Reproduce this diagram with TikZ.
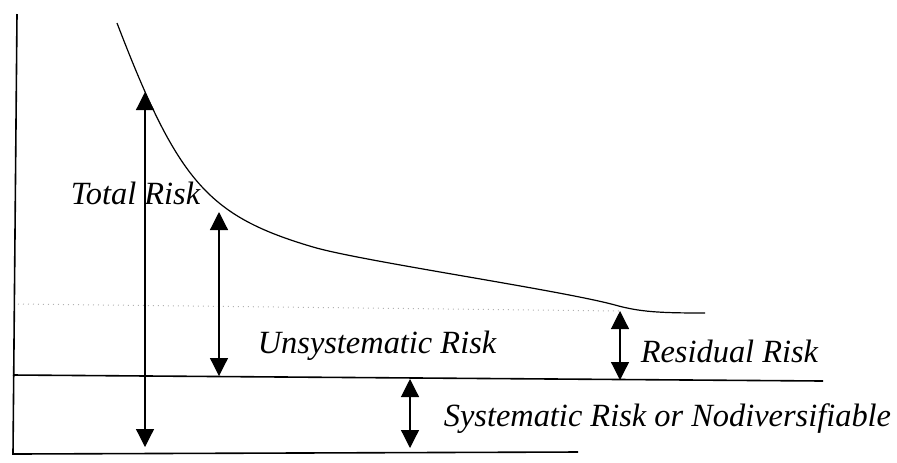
\documentclass[tikz,border=0pt]{standalone}
\usepackage{fontspec}
\setmainfont{Liberation Serif}
\usetikzlibrary{arrows.meta}

\begin{document}
\begin{tikzpicture}[x=0.5pt,y=-0.5pt,line width=0.8pt,
	riskarrow/.style={{Triangle[width=9pt,length=9pt]}-{Triangle[width=9pt,length=9pt]},line width=0.6pt},
	risklabel/.style={font=\fontsize{16.2}{19}\selectfont\itshape,inner sep=0pt,anchor=base west}]
	
	\useasboundingbox (0,0) rectangle (897,462);
	
	\coordinate (yTop) at (17,14);
	\coordinate (o) at (13,454);
	\coordinate (xEnd) at (578,452);
	\coordinate (sysL) at (13,375);
	\coordinate (sysR) at (823,381);
	\coordinate (dotL) at (18,304);
	
	\coordinate (totTop) at (145,92);
	\coordinate (totBot) at (145,447);
	\coordinate (unsTop) at (219,212);
	\coordinate (unsBot) at (219,376);
	\coordinate (resTop) at (620,311);
	\coordinate (resBot) at (620,380);
	\coordinate (sysTop) at (410,379);
	\coordinate (sysBot) at (410,448);
	
	\draw (yTop) -- (o) -- (xEnd);
	\draw (sysL) -- (sysR);
	\draw[gray!60,dotted,line width=0.5pt] (dotL) -- (resTop);
	
	\draw[line width=0.6pt] (117,23) .. controls (178,182) and (208,216) .. (313,247)
		.. controls (360,261) and (560,290) .. (615,305)
		.. controls (640,312) and (660,313) .. (705,313);
	
	\draw[riskarrow] (totTop) -- (totBot);
	\draw[riskarrow] (unsTop) -- (unsBot);
	\draw[riskarrow] (resTop) -- (resBot);
	\draw[riskarrow] (sysTop) -- (sysBot);
	
	\node[risklabel] (total) at (70,204) {Total Risk};
	\node[risklabel] (unsys) at (257,353) {Unsystematic Risk};
	\node[risklabel] (resid) at (640,362) {Residual Risk};
	\node[risklabel] (syst) at (443,426) {Systematic Risk or Nodiversifiable};
	
\end{tikzpicture}
\end{document}
